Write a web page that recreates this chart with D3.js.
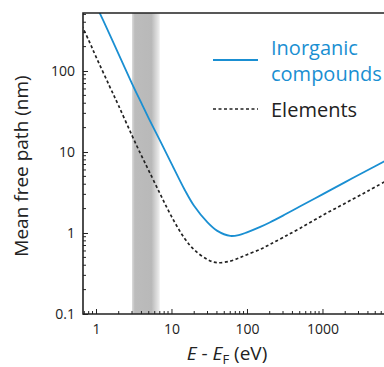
<!DOCTYPE html>
<html>
<head>
<meta charset="utf-8">
<script src="https://cdn.jsdelivr.net/npm/d3@7"></script>
<style>
  body { margin: 0; background: #fff; }
  svg { display: block; font-family: "Open Sans", sans-serif; }
  .tick-label { font-size: 14px; fill: #222; }
  .axis-title { font-size: 19px; fill: #222; }
  .legend-text { font-size: 20px; }
</style>
</head>
<body>
<svg id="svg" width="384" height="367"></svg>
<script>
// electron energy above Fermi level (eV)
const energy = [0.6, 0.8, 1, 1.5, 2, 3, 4, 5, 7, 10, 15, 20, 30, 40, 60, 80, 100, 150, 200, 300, 500, 1000, 2000, 4000, 7000];

// mean free path (nm)
const inorganic = [1800, 1000, 650, 290, 160, 70, 40, 26, 14, 7.2, 3.4, 2.15, 1.35, 1.07, 0.92, 0.95, 1.02, 1.19, 1.35, 1.64, 2.12, 3.0, 4.25, 6.0, 7.9];
const elements = [420, 240, 150, 66, 37, 16, 9, 5.9, 3.1, 1.6, 0.85, 0.62, 0.47, 0.43, 0.45, 0.495, 0.54, 0.63, 0.72, 0.88, 1.14, 1.65, 2.33, 3.3, 4.4];

// shaded energy window
const band = [3, 7];

const xTicks = [1, 10, 100, 1000];
const yTicks = [0.1, 1, 10, 100];

const legendLabels = [["Inorganic", "compounds"], ["Elements"]];

const colors = { inorganic: "#1a8fd2", elements: "#222" };

const svg = d3.select("svg#svg");

const plot = { left: 83, right: 384, top: 13, bottom: 314 };

const x = d3.scaleLog().domain([0.673, 6530]).range([plot.left, plot.right]);
const y = d3.scaleLog().domain([0.1, 520]).range([plot.bottom, plot.top]);

// gradient for the gray band
const defs = svg.append("defs");
const grad = defs.append("linearGradient").attr("id", "bandGrad");
grad.append("stop").attr("offset", "0%").attr("stop-color", "#dcdcdc");
grad.append("stop").attr("offset", "10%").attr("stop-color", "#bcbcbc");
grad.append("stop").attr("offset", "70%").attr("stop-color", "#b9b9b9");
grad.append("stop").attr("offset", "100%").attr("stop-color", "#f0f0f0");

defs.append("clipPath").attr("id", "clip")
  .append("rect")
  .attr("x", plot.left).attr("y", plot.top)
  .attr("width", plot.right - plot.left).attr("height", plot.bottom - plot.top);

svg.append("rect")
  .attr("x", x(band[0]))
  .attr("y", plot.top)
  .attr("width", x(band[1]) - x(band[0]))
  .attr("height", plot.bottom - plot.top)
  .attr("fill", "url(#bandGrad)");

var drawCurve = function(values, color, dash, width) {
  let pts = energy.map((e, i) => [e, values[i]]);
  let line = d3.line()
    .x(d => x(d[0]))
    .y(d => y(d[1]))
    .curve(d3.curveCatmullRom.alpha(0.5));

  svg.append("path")
    .datum(pts)
    .attr("clip-path", "url(#clip)")
    .attr("d", line)
    .attr("fill", "none")
    .attr("stroke", color)
    .attr("stroke-width", width)
    .attr("stroke-dasharray", dash);
}

drawCurve(elements, colors.elements, "3,2.5", 1.7);
drawCurve(inorganic, colors.inorganic, null, 1.8);

// axes with inward ticks
let minorX = [];
for (let d = 0.1; d <= 1000; d *= 10) {
  for (let k = 1; k < 10; k++) {
    let v = d * k;
    if (v >= 0.68 && v <= 6500 && !xTicks.includes(v)) minorX.push(v);
  }
}
let minorY = [];
for (let d = 0.1; d <= 100; d *= 10) {
  for (let k = 2; k < 10; k++) {
    let v = d * k;
    if (v <= 520) minorY.push(v);
  }
}

const xAxis = d3.axisBottom(x).tickValues(xTicks).tickSize(-5).tickFormat(d3.format("d"));
const yAxis = d3.axisLeft(y).tickValues(yTicks).tickSize(-5).tickFormat(d => d < 1 ? "0.1" : d3.format("d")(d));

let gx = svg.append("g")
  .attr("transform", "translate(0," + plot.bottom + ")")
  .call(xAxis);
gx.selectAll(".tick text").attr("y", 10).attr("dy", "0.71em");

let gy = svg.append("g")
  .attr("transform", "translate(" + plot.left + ",0)")
  .call(yAxis);
gy.selectAll(".tick text").attr("x", -8);

[gx, gy].forEach(function(g) {
  g.select(".domain").remove();
  g.attr("font-family", null).attr("font-size", null);
  g.selectAll(".tick line").attr("stroke", "#222").attr("stroke-width", 1);
  g.selectAll(".tick text").attr("class", "tick-label").attr("fill", null);
});

svg.append("g").selectAll("line")
  .data(minorX)
  .enter()
  .append("line")
  .attr("x1", d => x(d)).attr("x2", d => x(d))
  .attr("y1", plot.bottom).attr("y2", plot.bottom - 3)
  .attr("stroke", "#222");

svg.append("g").selectAll("line")
  .data(minorY)
  .enter()
  .append("line")
  .attr("y1", d => y(d)).attr("y2", d => y(d))
  .attr("x1", plot.left).attr("x2", plot.left + 3)
  .attr("stroke", "#222");

// frame: left, bottom, top
svg.append("path")
  .attr("d", "M" + plot.right + "," + plot.top + "H" + plot.left + "V" + plot.bottom + "H" + plot.right)
  .attr("fill", "none")
  .attr("stroke", "#222")
  .attr("stroke-width", 1.6);

// axis titles
svg.append("text")
  .attr("class", "axis-title")
  .attr("transform", "translate(28,166) rotate(-90)")
  .attr("text-anchor", "middle")
  .text("Mean free path (nm)");

let xt = svg.append("text")
  .attr("class", "axis-title")
  .attr("x", 227)
  .attr("y", 360)
  .attr("text-anchor", "middle");
xt.append("tspan").attr("font-style", "italic").text("E");
xt.append("tspan").text(" - ");
xt.append("tspan").attr("font-style", "italic").text("E");
xt.append("tspan").attr("font-size", "13px").attr("dy", 4).text("F");
xt.append("tspan").attr("dy", -4).text(" (eV)");

// legend
let legend = svg.append("g");
legend.append("line")
  .attr("x1", 213).attr("x2", 258).attr("y1", 60).attr("y2", 60)
  .attr("stroke", colors.inorganic).attr("stroke-width", 1.8);
legend.append("line")
  .attr("x1", 213).attr("x2", 258).attr("y1", 109).attr("y2", 109)
  .attr("stroke", colors.elements).attr("stroke-width", 1.5)
  .attr("stroke-dasharray", "3,2.5");

legend.selectAll("text.inorg")
  .data(legendLabels[0])
  .enter()
  .append("text")
  .attr("class", "legend-text inorg")
  .attr("x", 271)
  .attr("y", (d, i) => 55 + i * 26)
  .attr("fill", colors.inorganic)
  .text(d => d);

legend.append("text")
  .attr("class", "legend-text")
  .attr("x", 271)
  .attr("y", 117)
  .attr("fill", "#222")
  .text(legendLabels[1][0]);
</script>
</body>
</html>
